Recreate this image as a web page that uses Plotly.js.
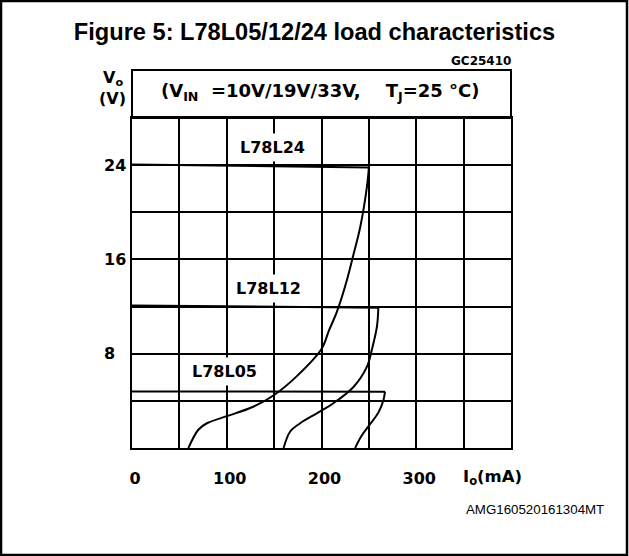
<!DOCTYPE html>
<html>
<head>
<meta charset="utf-8">
<script src="https://cdn.plot.ly/plotly-3.0.1.min.js"></script>
<style>
html,body{margin:0;padding:0;background:#fff;}
#chart{width:629px;height:556px;}
</style>
</head>
<body>
<div id="chart"></div>
<script>
// ---- data ----
const deviceNames = ["L78L24", "L78L12", "L78L05"];

// L78L24: flat regulation part and drop-out curve
const flat24Io = [0, 250];
const flat24Vo = [24.05, 23.8];
const drop24Io = [250, 248, 241, 234, 227, 216, 208, 200, 174, 150, 128, 100, 79, 70, 59.5];
const drop24Vo = [23.8, 22.2, 18.8, 16.5, 14.3, 11.5, 10.0, 8.4, 6.1, 4.5, 3.5, 2.7, 2.1, 1.55, 0];

// L78L12
const flat12Io = [0, 260];
const flat12Vo = [12.1, 11.9];
const drop12Io = [260, 258.5, 253, 248, 234, 212.6, 198.6, 177.5, 167, 160];
const drop12Vo = [11.9, 10.3, 8.3, 6.9, 5.2, 3.8, 3.1, 2.1, 1.4, 0];

// L78L05
const flat05Io = [0, 267];
const flat05Vo = [4.8, 4.78];
const drop05Io = [267, 265.5, 260, 251, 242, 235.5];
const drop05Vo = [4.78, 4.1, 3.0, 2.0, 1.0, 0];

// axis ticks
const xGrid = [0, 50, 100, 150, 200, 250, 300, 350, 400];
const xTickText = ["0", "", "100", "", "200", "", "300", "", ""];
const yGrid = [0, 4, 8, 12, 16, 20, 24, 28];
const yLabelVals = [8, 16, 24];
const yLabelText = ["8", "16", "24"];

const titleText = "Figure 5: L78L05/12/24 load characteristics";
const conditionText = "(V<sub>IN</sub>\u00A0\u00A0=10V/19V/33V,\u00A0\u00A0\u00A0\u00A0T<sub>J</sub>=25\u00A0°C)";
const codeTop = "GC25410";
const codeBottom = "AMG160520161304MT";

// ---- layout geometry ----
const W = 629, H = 556;
const M = {l: 132, r: 118, t: 118, b: 108};
const PW = W - M.l - M.r, PH = H - M.t - M.b;
const px = v => (v - M.l) / PW;          // page x pixel -> paper
const py = v => (H - M.b - v) / PH;      // page y pixel -> paper

const techFont = {family: "DejaVu Sans", size: 16, color: "#000", weight: "bold"};
const lineStyle = {color: "#000", width: 2};

function tr(x, y, spline) {
  return {x: x, y: y, type: "scatter", mode: "lines", hoverinfo: "skip",
          line: Object.assign({}, lineStyle, spline ? {shape: "spline", smoothing: 1} : {})};
}

const data = [
  tr(flat24Io, flat24Vo, false), tr(drop24Io, drop24Vo, true),
  tr(flat12Io, flat12Vo, false), tr(drop12Io, drop12Vo, true),
  tr(flat05Io, flat05Vo, false), tr(drop05Io, drop05Vo, true)
];

const labelPos = [[148.6, 25.5], [144, 13.5], [97.4, 6.46]];
const annotations = [];
deviceNames.forEach((n, i) => {
  annotations.push({x: labelPos[i][0], y: labelPos[i][1], xref: "x", yref: "y", text: n,
    showarrow: false, font: techFont, bgcolor: "#fff", borderpad: 4});
});
yLabelVals.forEach((v, i) => {
  annotations.push({x: px(102), y: v, xref: "paper", yref: "y", text: yLabelText[i],
    xanchor: "left", yanchor: "middle", showarrow: false, font: techFont});
});
annotations.push({x: px(101), y: py(78), xref: "paper", yref: "paper", text: "V<sub>o</sub>",
  xanchor: "left", yanchor: "middle", showarrow: false, font: techFont});
annotations.push({x: px(97), y: py(98), xref: "paper", yref: "paper", text: "(V)",
  xanchor: "left", yanchor: "middle", showarrow: false, font: techFont});
annotations.push({x: px(461), y: py(477), xref: "paper", yref: "paper", text: "I<sub>o</sub>(mA)",
  xanchor: "left", yanchor: "middle", showarrow: false,
  font: Object.assign({}, techFont, {size: 16.5})});
annotations.push({x: px(320), y: py(92), xref: "paper", yref: "paper", text: conditionText,
  xanchor: "center", yanchor: "middle", showarrow: false,
  font: Object.assign({}, techFont, {size: 18})});
annotations.push({x: px(513), y: py(61), xref: "paper", yref: "paper", text: codeTop,
  xanchor: "right", yanchor: "middle", showarrow: false,
  font: {family: "DejaVu Sans", size: 12, color: "#000", weight: "bold"}});
annotations.push({x: px(606), y: py(509), xref: "paper", yref: "paper", text: codeBottom,
  xanchor: "right", yanchor: "middle", showarrow: false,
  font: {family: "Liberation Sans", size: 13.3, color: "#000"}});

const shapes = [
  {type: "rect", xref: "paper", yref: "paper", x0: 0, x1: 1, y0: 1, y1: py(70),
   line: {color: "#000", width: 2}},
  {type: "rect", xref: "paper", yref: "paper", x0: px(1), x1: px(627), y0: py(1), y1: py(555),
   line: {color: "#000", width: 2.5}}
];

const layout = {
  width: W, height: H, margin: M,
  paper_bgcolor: "#fff", plot_bgcolor: "#fff", showlegend: false,
  title: {text: titleText, x: 0.5, xref: "container", y: 1 - 32 / H, yref: "container",
          xanchor: "center", yanchor: "middle",
          font: {family: "Liberation Sans", size: 23.6, color: "#000", weight: "bold"}},
  xaxis: {range: [0, 400], tickmode: "array", tickvals: xGrid, ticktext: xTickText,
          showgrid: true, gridcolor: "#000", gridwidth: 2, zeroline: false,
          showline: true, linecolor: "#000", linewidth: 2, mirror: true,
          ticks: "", ticklabelstandoff: 15, ticklabelshift: 3, tickfont: techFont, fixedrange: true},
  yaxis: {range: [0, 28], tickmode: "array", tickvals: yGrid, showticklabels: false,
          showgrid: true, gridcolor: "#000", gridwidth: 2, zeroline: false,
          showline: true, linecolor: "#000", linewidth: 2, mirror: true,
          ticks: "", fixedrange: true},
  annotations: annotations,
  shapes: shapes
};

Plotly.newPlot("chart", data, layout, {displayModeBar: false, staticPlot: true});
</script>
</body>
</html>
